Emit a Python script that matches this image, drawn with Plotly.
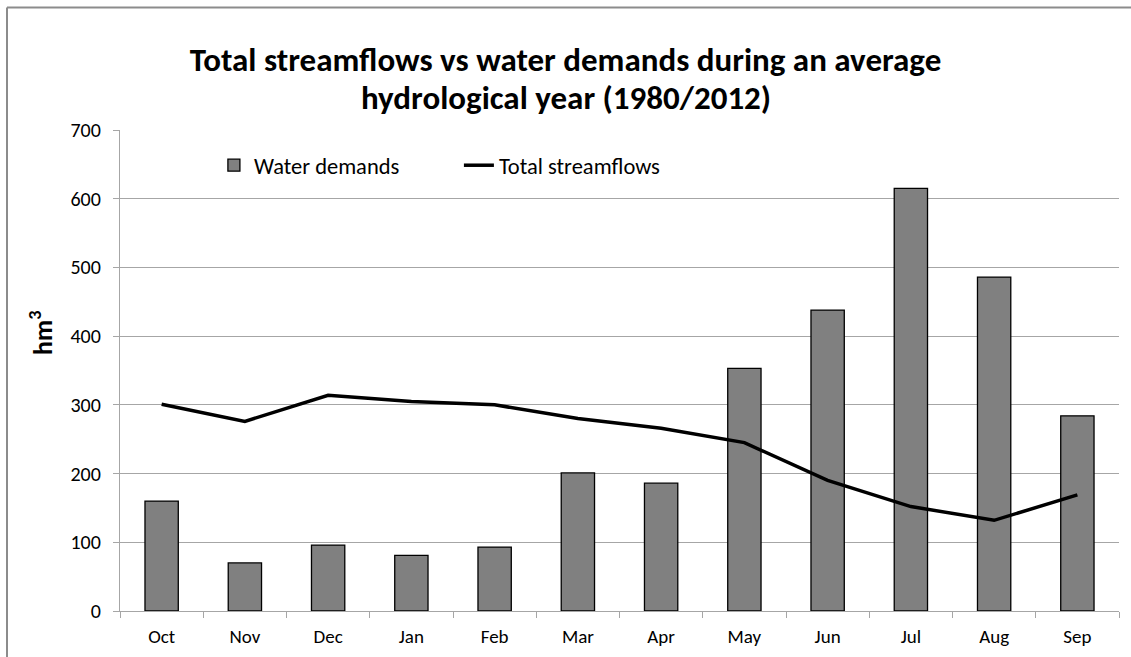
import plotly.graph_objects as go

months = ["Oct", "Nov", "Dec", "Jan", "Feb", "Mar", "Apr", "May", "Jun", "Jul", "Aug", "Sep"]
water_demands = [160, 70, 96, 81, 93, 201, 186, 353, 438, 615, 486, 284]
total_streamflows = [301, 276, 314, 305, 300, 280, 266, 245, 190, 152, 132, 169]
y_ticks = [0, 100, 200, 300, 400, 500, 600, 700]
title_lines = ["Total streamflows vs water demands during an average",
               "hydrological year (1980/2012)"]

FONT = "Carlito, Calibri, Lato, sans-serif"
GRID = "#a6a6a6"

fig = go.Figure()
fig.add_trace(go.Bar(
    x=months, y=water_demands, name="Water demands",
    marker=dict(color="#808080", line=dict(color="#000000", width=1.3)),
    width=0.4,
))
fig.add_trace(go.Scatter(
    x=months, y=total_streamflows, name="Total streamflows",
    mode="lines", line=dict(color="#000000", width=3.5),
))

fig.update_layout(
    width=1131, height=657,
    margin=dict(l=120, r=12, t=130, b=46),
    paper_bgcolor="white", plot_bgcolor="white",
    font=dict(family=FONT, size=20, color="#000000"),
    title=dict(
        text=title_lines[0],
        x=0.5, xref="container", xanchor="center",
        y=1 - 59 / 657, yref="container", yanchor="middle",
        font=dict(family=FONT, size=33, color="#000000", weight="bold"),
    ),
    showlegend=True,
    legend=dict(
        orientation="h", x=0.094, xanchor="left", y=0.926, yanchor="middle",
        font=dict(family=FONT, size=22.5, color="#000000"),
        bgcolor="rgba(0,0,0,0)", entrywidth=200, entrywidthmode="pixels",
    ),
    bargap=0.6,
    xaxis=dict(
        type="category", showgrid=False, showline=True, linecolor=GRID, linewidth=1.3,
        ticks="outside", tickson="boundaries", ticklen=6, tickcolor=GRID,
        ticklabelstandoff=8, automargin=False,
        tickfont=dict(family=FONT, size=19), fixedrange=True,
    ),
    yaxis=dict(
        range=[0, 700], tickvals=y_ticks, showgrid=True, gridcolor=GRID, gridwidth=1.3,
        showline=True, linecolor=GRID, linewidth=1.3, zeroline=False,
        ticks="outside", ticklen=6, tickcolor=GRID, ticklabelstandoff=8,
        automargin=False,
        tickfont=dict(family=FONT, size=20), fixedrange=True,
    ),
    annotations=[
        dict(
            text=title_lines[1], x=(565.5 - 120) / 999, y=(610.7 - 98) / 480.4,
            xref="paper", yref="paper", showarrow=False,
            font=dict(family=FONT, size=33, color="#000000", weight="bold"),
            xanchor="center", yanchor="middle",
        ),
        dict(
            text="<b>hm<sup>3</sup></b>", x=(42 - 120) / 999, y=0.578,
            xref="paper", yref="paper", showarrow=False, textangle=-90,
            font=dict(family=FONT, size=26, color="#000000"),
            xanchor="center", yanchor="middle",
        ),
    ],
    shapes=[
        dict(type="line", xref="paper", yref="paper",
             x0=(7 - 120) / 999, x1=(7 - 120) / 999, y0=-0.2, y1=(610.7 - 8) / 480.4,
             line=dict(color="#8c8c8c", width=2)),
        dict(type="line", xref="paper", yref="paper",
             x0=(7 - 120) / 999, x1=1.05, y0=(610.7 - 8) / 480.4, y1=(610.7 - 8) / 480.4,
             line=dict(color="#8c8c8c", width=2)),
    ],
)

fig.write_html(
    "out.html",
    config={"displayModeBar": False},
    post_script="document.body.style.margin='0';document.body.style.overflow='hidden';",
)
